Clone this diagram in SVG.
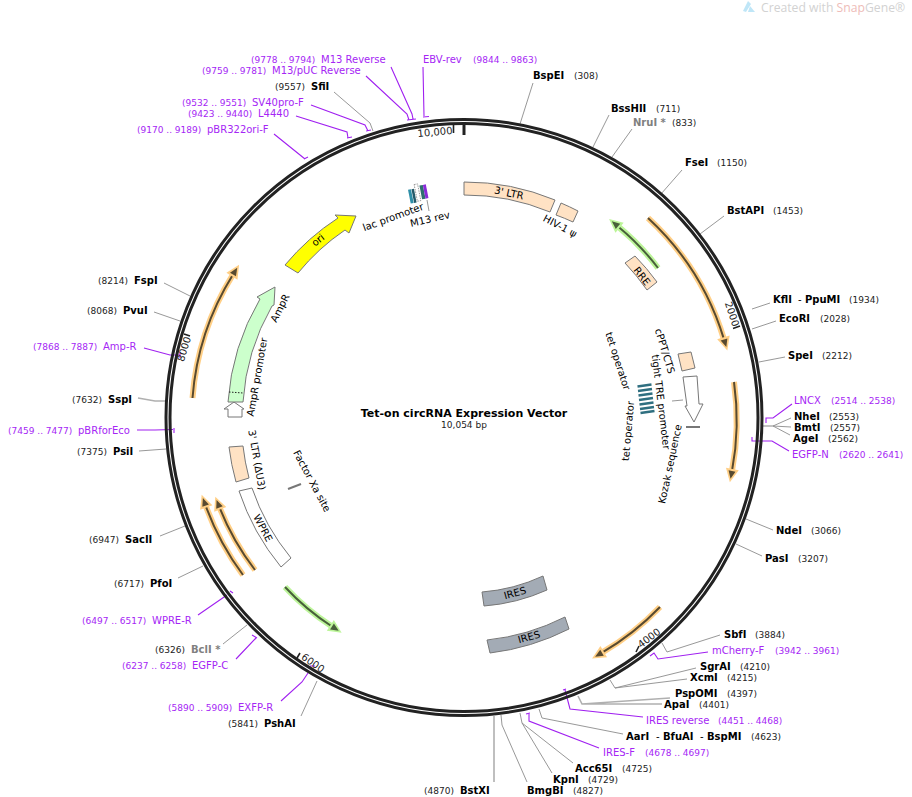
<svg xmlns="http://www.w3.org/2000/svg" width="912" height="797" viewBox="0 0 912 797">
<style>
text{font-family:"DejaVu Sans",sans-serif;fill:#000}
.n{font-size:10px;font-weight:bold}
.r{font-size:9px;fill:#222}
.p{font-size:10px;fill:#a526f5}
.q{font-size:9px;fill:#a526f5}
.g{fill:#808080}
.f{font-size:10px;text-anchor:middle;dominant-baseline:central}
.t{font-size:10px;text-anchor:middle;dominant-baseline:central;fill:#222}
.ring{fill:none;stroke:#222;stroke-width:3}
.tick{stroke:#222;stroke-width:1.6;fill:none}
.lg{fill:none;stroke:#8c8c8c;stroke-width:.9}
.lb{fill:none;stroke:#b0b0b0;stroke-width:1.6}
.lp{fill:none;stroke:#a020f0;stroke-width:1.1}
.fe{stroke:#777;stroke-width:1}
.peach{fill:#ffe2c4}
.white{fill:#fff}
.iron{fill:#a3abb5}
.oh{fill:none;stroke:#ffcf86;stroke-width:6}
.gh{fill:none;stroke:#bdf59a;stroke-width:6}
.od{fill:none;stroke:#584a30;stroke-width:2;marker-end:url(#mo)}
.gd{fill:none;stroke:#48603a;stroke-width:2;marker-end:url(#mg)}
</style>
<defs>
<marker id="mo" markerUnits="userSpaceOnUse" markerWidth="16" markerHeight="16" refX="1" refY="8" orient="auto" overflow="visible"><polygon points="-1,1.5 12.5,8 -1,14.5" fill="#ffcf86"/><polygon points="1,4.5 9,8 1,11.5" fill="#584a30"/></marker>
<marker id="mg" markerUnits="userSpaceOnUse" markerWidth="16" markerHeight="16" refX="1" refY="8" orient="auto" overflow="visible"><polygon points="-1,1.5 12.5,8 -1,14.5" fill="#bdf59a"/><polygon points="1,4.5 9,8 1,11.5" fill="#48603a"/></marker>
</defs>
<rect width="912" height="797" fill="#fff"/>
<g id="watermark"><path d="M743 11 L748 1 L751 4 L746 12 Z" fill="#bfe6f7"/><path d="M750 6 L755 12 L748 12 Z" fill="#bfe6f7"/><text x="761" y="12" style="font-family:'Open Sans',sans-serif;font-size:12.2px;fill:#d2d2d2">Created with <tspan fill="#eebcb8">Snap</tspan>Gene®</text></g>

<g id="connectors">
<path class="lg" d="M520 124L533 83M592 149L609 115M612 157L632 129M661 194L682 170M700 234L724 216M752 309L770 303M752 329L776 321M759 362L785 357M746 519L773 530M736 544L762 556M662 643L667 652L720 635M610 680L615 688L696 668M615 688L687 679M539 709L542 718L623 734M520 713L522 723L573 763M522 723L552 773M501 715L502 725L527 782M317 681L301 716M247 625L223 644M203 566L178 578M185 526L160 536M166 449L139 451M180 321L154 312M190 296L164 283M334 92L370 123L373 131M773 426L791 418M773 426L791 427M773 426L790 435M672 401L683 400"/>
<path class="lb" d="M763 426L773 426M578 696L582 704L670 698M582 704L662 704M494 716L494 782M166 401L155 401L138 398"/>
<path class="lp" d="M766 423L766 418L773 418L792 404M752 437L752 441L772 441L789 451M650 656L654 653L658 659L708 652M563 690L566 689M565 690L570 709L643 717M526 714L530 713M529 714L529 721L599 748M310 666L315 666M308 673L302 682L281 701M252 635L257 638M256 638L236 659M230 591L233 593M227 595L198 615M174 428L174 433M137 430L155 430L173 429.5M144 348L170 355L180 355M180 352L180 358M304 159L308 157M305 159L274 134M347 138L352 137M348 138L347 132L296 116M366 131L371 130M368 131L365 125L311 105M407 120L416 119M409 120L407 114L366 76M413 119L412 114L391 67M423 117L429 116.5M424 116L423 67"/>
</g>

<g id="backbone">
<circle class="ring" cx="464" cy="417.500" r="298"/>
<circle class="ring" cx="464" cy="417.500" r="294"/>
<path d="M464 124V135" stroke="#222" stroke-width="3"/>
<path class="tick" d="M453.500 125V133M740 326L733 328.500M636 652L639 646M297 658L300 653M184 334L190 336"/>
<text class="t" transform="translate(435 132) rotate(-5)">10,000</text>
<text class="t" transform="translate(732 314) rotate(72)">2000</text>
<text class="t" transform="translate(649 638) rotate(-37)">4000</text>
<text class="t" transform="translate(313 663) rotate(35)">6000</text>
<text class="t" transform="translate(184 349) rotate(-73)">8000</text>
</g>

<g id="title">
<text x="464" y="417" text-anchor="middle" style="font-size:11px;font-weight:bold">Tet-on circRNA Expression Vector</text>
<text x="464" y="428" text-anchor="middle" style="font-size:9px;fill:#222">10,054 bp</text>
</g>

<g id="LTR3"><path class="fe peach" d="M464 182A235 235 0 0 1 555 200L550 212A222 222 0 0 0 464 195Z"/><text class="f" transform="translate(509 193) rotate(12)">3' LTR</text></g>
<g id="HIV1psi"><path class="fe peach" d="M561 203A235 235 0 0 1 578 211L573 222A222 222 0 0 0 556 215Z"/><text class="f" transform="translate(560 226) rotate(28)">HIV-1 ψ</text></g>
<g id="RRE"><path class="fe peach" d="M635 256A235 235 0 0 1 657 282L647 290A222 222 0 0 0 625 263Z"/><text class="f" transform="translate(642 276) rotate(52)">RRE</text></g>
<g id="cPPT"><polygon class="fe peach" points="678,354 691,352 695,368 682,371"/><text class="f" transform="translate(665 351) rotate(73)">cPPT/CTS</text></g>
<g id="tightTRE"><polygon class="fe white" points="683,377 697,376 699,404 703,404 694,422 685,406 687,406"/><text class="f" transform="translate(661 402) rotate(83)">tight TRE promoter</text></g>
<g id="Kozak"><path d="M686 427H700" stroke="#777" stroke-width="2"/><text class="f" transform="translate(670 464) rotate(-78)">Kozak sequence</text></g>
<g id="tetO"><path d="M637.500 386.500L651.500 384.500M638 391L652 389M638.500 395.500L652.500 393.500M639 400L653 398M639.500 404.500L653.500 402.500M640 409L654 407M640.500 413L654.500 411" stroke="#2f6f80" stroke-width="2.600"/><text class="f" transform="translate(618 361) rotate(72)">tet operator</text><text class="f" transform="translate(628 431) rotate(-85)">tet operator</text></g>
<g id="IRES1"><path class="fe iron" d="M482 592A176 176 0 0 0 543 576L547 590A190 190 0 0 1 484 606Z"/><text class="f" transform="translate(515 593) rotate(-15)">IRES</text></g>
<g id="IRES2"><path class="fe iron" d="M487 640A224 224 0 0 0 565 617L569 629A237 237 0 0 1 490 653Z"/><text class="f" transform="translate(529 637) rotate(-15)">IRES</text></g>
<g id="WPRE"><path class="fe white" d="M239 491L252 488A223 223 0 0 0 291 558L281 567A237 237 0 0 1 239 491Z"/><text class="f" transform="translate(263 528) rotate(62)">WPRE</text></g>
<g id="LTR3dU3"><path class="fe peach" d="M229 447L243 446A223 223 0 0 0 249 478L236 482A237 237 0 0 1 229 447Z"/><text class="f" transform="translate(257 460) rotate(80)">3' LTR (ΔU3)</text></g>
<g id="FactorXa"><path d="M288 489L301 484" stroke="#777" stroke-width="2"/><text class="f" transform="translate(312 481) rotate(62)">Factor Xa site</text></g>
<g id="AmpRprom"><polygon class="fe white" points="234,402 244,409 242,409 242,417 228,417 228,409 224,409"/><text class="f" transform="translate(257 377) rotate(-80)">AmpR promoter</text></g>
<g id="AmpR"><path d="M228 402A236 236 0 0 1 260 299L257 297L275 287L274 305L272 306A222 222 0 0 0 243 402Z" class="fe" fill="#ccffcc"/><path d="M229 392L243 393" stroke="#222" stroke-dasharray="1.500 1.500" fill="none"/><text class="f" transform="translate(280 308) rotate(-63)">AmpR</text></g>
<g id="ori"><path d="M285 265A235 235 0 0 1 338 218L335 215L356 216L349 233L345 230A221 221 0 0 0 298 273Z" class="fe" fill="#ffff00"/><text class="f" transform="translate(318 240) rotate(-38)">ori</text></g>
<g id="lacProm"><g transform="rotate(-11 418 194)"><rect x="409" y="188" width="3" height="14" fill="#2f8fa8"/><rect x="412.500" y="188" width="2.500" height="14" fill="#245a6a"/><rect x="416" y="184" width="3.500" height="17" fill="#fff" stroke="#777" stroke-width=".7" stroke-dasharray="1.500 1"/><rect x="421" y="186" width="3.500" height="14" fill="#2f6f70"/><rect x="424.500" y="186" width="3" height="14" fill="#8a2bd8"/></g><path class="lg" d="M427 200L429 211"/><text class="f" transform="translate(393 217) rotate(-20)">lac promoter</text><text class="f" transform="translate(430 219) rotate(-13)">M13 rev</text></g>

<g id="orange1"><path class="oh" d="M648 218A272 272 0 0 1 724 339.400"/><path class="od" d="M648 218A272 272 0 0 1 724 339.400"/></g>
<g id="orange2"><path class="oh" d="M734 382A272 272 0 0 1 732 471"/><path class="od" d="M734 382A272 272 0 0 1 732 471"/></g>
<g id="orange3"><path class="oh" d="M660 607A272 272 0 0 1 602 652.700"/><path class="od" d="M660 607A272 272 0 0 1 602 652.700"/></g>
<g id="orange4"><path class="oh" d="M192.500 398A272 272 0 0 1 233 274.500"/><path class="od" d="M192.500 398A272 272 0 0 1 233 274.500"/></g>
<g id="orange5"><path class="oh" d="M243 575A272 272 0 0 1 205.600 505.600"/><path class="od" d="M243 575A272 272 0 0 1 205.600 505.600"/></g>
<g id="orange6"><path class="oh" d="M255 570A259 259 0 0 1 219.500 507.500"/><path class="od" d="M255 570A259 259 0 0 1 219.500 507.500"/></g>
<g id="green1"><path class="gh" d="M658 268A245 245 0 0 0 618 226.400"/><path class="gd" d="M658 268A245 245 0 0 0 618 226.400"/></g>
<g id="green2"><path class="gh" d="M285 587A247 247 0 0 0 332 626.500"/><path class="gd" d="M285 587A247 247 0 0 0 332 626.500"/></g>

<g id="sites">
<g id="BspEI"><text class="n" x="533" y="79">BspEI</text><text class="r" x="574" y="79">(308)</text></g>
<g id="BssHII"><text class="n" x="611" y="112">BssHII</text><text class="r" x="656" y="112">(711)</text></g>
<g id="NruI"><text class="n g" x="633" y="126">NruI *</text><text class="r" x="672" y="126">(833)</text></g>
<g id="FseI"><text class="n" x="685" y="166">FseI</text><text class="r" x="717" y="166">(1150)</text></g>
<g id="BstAPI"><text class="n" x="727" y="214">BstAPI</text><text class="r" x="773" y="214">(1453)</text></g>
<g id="KflI"><text class="n" x="773" y="303">KflI</text><text class="n" x="798" y="303" style="font-weight:normal">-</text><text class="n" x="805" y="303">PpuMI</text><text class="r" x="849" y="303">(1934)</text></g>
<g id="EcoRI"><text class="n" x="779" y="322">EcoRI</text><text class="r" x="820" y="322">(2028)</text></g>
<g id="SpeI"><text class="n" x="788" y="359">SpeI</text><text class="r" x="822" y="359">(2212)</text></g>
<g id="NheI"><text class="n" x="794" y="420">NheI</text><text class="r" x="829" y="420">(2553)</text></g>
<g id="BmtI"><text class="n" x="794" y="431">BmtI</text><text class="r" x="830" y="431">(2557)</text></g>
<g id="AgeI"><text class="n" x="793" y="442">AgeI</text><text class="r" x="828" y="442">(2562)</text></g>
<g id="NdeI"><text class="n" x="776" y="534">NdeI</text><text class="r" x="811" y="534">(3066)</text></g>
<g id="PasI"><text class="n" x="765" y="562">PasI</text><text class="r" x="798" y="562">(3207)</text></g>
<g id="SbfI"><text class="n" x="724" y="638">SbfI</text><text class="r" x="755" y="638">(3884)</text></g>
<g id="SgrAI"><text class="n" x="700" y="670">SgrAI</text><text class="r" x="740" y="670">(4210)</text></g>
<g id="XcmI"><text class="n" x="690" y="681">XcmI</text><text class="r" x="727" y="681">(4215)</text></g>
<g id="PspOMI"><text class="n" x="675" y="697">PspOMI</text><text class="r" x="727" y="697">(4397)</text></g>
<g id="ApaI"><text class="n" x="664" y="708">ApaI</text><text class="r" x="699" y="708">(4401)</text></g>
<g id="AarI"><text class="n" x="626" y="740">AarI</text><text class="n" x="656" y="740" style="font-weight:normal">-</text><text class="n" x="663" y="740">BfuAI</text><text class="n" x="700" y="740" style="font-weight:normal">-</text><text class="n" x="707" y="740">BspMI</text><text class="r" x="751" y="740">(4623)</text></g>
<g id="Acc65I"><text class="n" x="575" y="772">Acc65I</text><text class="r" x="622" y="772">(4725)</text></g>
<g id="KpnI"><text class="n" x="553" y="783">KpnI</text><text class="r" x="588" y="783">(4729)</text></g>
<g id="BmgBI"><text class="n" x="527" y="794">BmgBI</text><text class="r" x="573" y="794">(4827)</text></g>
<g id="BstXI"><text class="n" x="460" y="794">BstXI</text><text class="r" x="424" y="794">(4870)</text></g>
<g id="PshAI"><text class="n" x="264" y="727">PshAI</text><text class="r" x="228" y="727">(5841)</text></g>
<g id="BclI"><text class="n g" x="191" y="653">BclI *</text><text class="r" x="155" y="653">(6326)</text></g>
<g id="PfoI"><text class="n" x="150" y="587">PfoI</text><text class="r" x="114" y="587">(6717)</text></g>
<g id="SacII"><text class="n" x="125" y="543">SacII</text><text class="r" x="89" y="543">(6947)</text></g>
<g id="PsiI"><text class="n" x="113" y="455">PsiI</text><text class="r" x="77" y="455">(7375)</text></g>
<g id="SspI"><text class="n" x="108" y="403">SspI</text><text class="r" x="72" y="403">(7632)</text></g>
<g id="PvuI"><text class="n" x="123" y="314">PvuI</text><text class="r" x="87" y="314">(8068)</text></g>
<g id="FspI"><text class="n" x="134" y="284">FspI</text><text class="r" x="98" y="284">(8214)</text></g>
<g id="SfiI"><text class="n" x="311" y="90">SfiI</text><text class="r" x="275" y="90">(9557)</text></g>
</g>
<g id="primers">
<g id="LNCX"><text class="p" x="794" y="404">LNCX</text><text class="q" x="831" y="404">(2514 .. 2538)</text></g>
<g id="EGFP-N"><text class="p" x="792" y="458">EGFP-N</text><text class="q" x="839" y="458">(2620 .. 2641)</text></g>
<g id="mCherry-F"><text class="p" x="712" y="654">mCherry-F</text><text class="q" x="775" y="654">(3942 .. 3961)</text></g>
<g id="IRESreverse"><text class="p" x="646" y="724">IRES reverse</text><text class="q" x="718" y="724">(4451 .. 4468)</text></g>
<g id="IRES-F"><text class="p" x="603" y="756">IRES-F</text><text class="q" x="645" y="756">(4678 .. 4697)</text></g>
<g id="EXFP-R"><text class="p" x="238" y="711">EXFP-R</text><text class="q" x="168" y="711">(5890 .. 5909)</text></g>
<g id="EGFP-C"><text class="p" x="192" y="669">EGFP-C</text><text class="q" x="122" y="669">(6237 .. 6258)</text></g>
<g id="WPRE-R"><text class="p" x="152" y="624">WPRE-R</text><text class="q" x="82" y="624">(6497 .. 6517)</text></g>
<g id="pBRforEco"><text class="p" x="78" y="434">pBRforEco</text><text class="q" x="8" y="434">(7459 .. 7477)</text></g>
<g id="Amp-R"><text class="p" x="103" y="350">Amp-R</text><text class="q" x="33" y="350">(7868 .. 7887)</text></g>
<g id="pBR322ori-F"><text class="p" x="207" y="133">pBR322ori-F</text><text class="q" x="137" y="133">(9170 .. 9189)</text></g>
<g id="L4440"><text class="p" x="258" y="117">L4440</text><text class="q" x="188" y="117">(9423 .. 9440)</text></g>
<g id="SV40pro-F"><text class="p" x="252" y="106">SV40pro-F</text><text class="q" x="182" y="106">(9532 .. 9551)</text></g>
<g id="M13pUC"><text class="p" x="272" y="74">M13/pUC Reverse</text><text class="q" x="202" y="74">(9759 .. 9781)</text></g>
<g id="M13Reverse"><text class="p" x="321" y="63">M13 Reverse</text><text class="q" x="251" y="63">(9778 .. 9794)</text></g>
<g id="EBV-rev"><text class="p" x="423" y="63">EBV-rev</text><text class="q" x="473" y="63">(9844 .. 9863)</text></g>
</g>
</svg>
